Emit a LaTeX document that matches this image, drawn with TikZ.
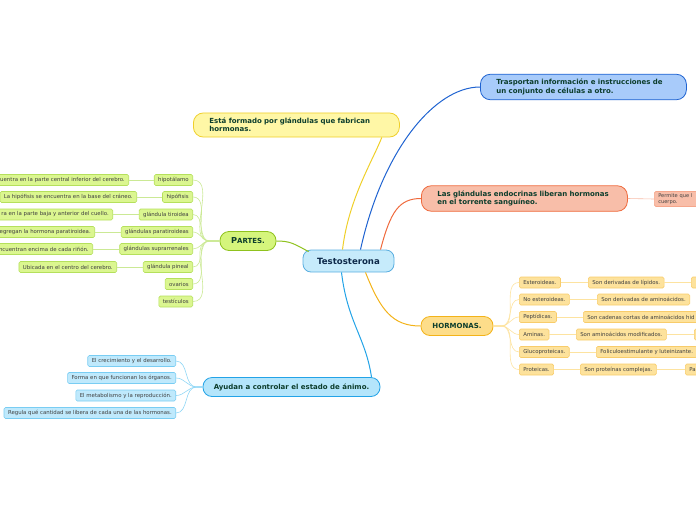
\documentclass[tikz,border=0pt]{standalone}
\usepackage{fontspec}
\setmainfont{DejaVu Sans}
\usetikzlibrary{positioning}

\definecolor{centfill}{HTML}{C6EBFB}
\definecolor{centline}{HTML}{5AAEE0}
\definecolor{centtext}{HTML}{0E2A4A}
\definecolor{temtext}{HTML}{0C3D2C}
\definecolor{trasfill}{HTML}{A8CBFA}
\definecolor{trasline}{HTML}{1F63D1}
\definecolor{estafill}{HTML}{FFF7A6}
\definecolor{estaline}{HTML}{EFCF2A}
\definecolor{glanfill}{HTML}{F8BEA9}
\definecolor{glanline}{HTML}{EF6A3D}
\definecolor{partfill}{HTML}{D5F57C}
\definecolor{partline}{HTML}{8FC21E}
\definecolor{partleafline}{HTML}{B5E05C}
\definecolor{partedge}{HTML}{CBE995}
\definecolor{hormfill}{HTML}{FDDD8A}
\definecolor{hormline}{HTML}{F3B31A}
\definecolor{hormleafline}{HTML}{F8CC6A}
\definecolor{hormedge}{HTML}{FDE3A0}
\definecolor{ayudfill}{HTML}{B4E5FB}
\definecolor{ayudline}{HTML}{23A3E7}
\definecolor{ayudleafline}{HTML}{79CDF3}
\definecolor{ayudedge}{HTML}{8FD6F5}

\tikzset{
  tema/.style={draw, rounded corners=10pt, line width=0.8pt,
    font=\bfseries\fontsize{7}{8.4}\selectfont, text=temtext,
    align=left, text width=174pt, inner xsep=16pt, inner ysep=5pt},
  rama/.style={draw, rounded corners=9pt, line width=0.8pt,
    font=\bfseries\fontsize{7}{8}\selectfont, text=temtext,
    minimum height=19pt, inner xsep=4pt, inner ysep=0pt},
  hoja/.style={draw, rounded corners=1.5pt, line width=0.6pt,
    font=\fontsize{5.4}{6.4}\selectfont, text=black!75,
    inner xsep=4pt, inner ysep=0pt, minimum height=11pt},
  partehoja/.style={hoja, fill=partfill!85!white, draw=partleafline},
  hormhoja/.style={hoja, fill=hormfill!85!white, draw=hormleafline},
  ayudhoja/.style={hoja, fill=ayudfill!85!white, draw=ayudleafline},
  partelinea/.style={draw=partedge, line width=0.6pt},
  hormlinea/.style={draw=hormedge, line width=0.6pt},
  ayudlinea/.style={draw=ayudedge, line width=0.6pt}
}

\begin{document}
\begin{tikzpicture}[x=1pt,y=-1pt]
  \useasboundingbox (0,0) rectangle (696,520);
  \clip (0,0) rectangle (696,520);

  % centro
  \node [draw=centline, fill=centfill, rounded corners=8pt, line width=0.8pt,
    minimum width=91pt, minimum height=22pt, text=centtext,
    font=\bfseries\fontsize{8.6}{10}\selectfont] (testo) at (348.5,261) {Testosterona};

  % temas principales
  \node [tema, fill=trasfill, draw=trasline, anchor=west] (trasp) at (480,87)
    {Trasportan información e instrucciones de\\un conjunto de células a otro.};
  \node [tema, fill=estafill, draw=estaline, anchor=west] (esta) at (193,125)
    {Está formado por glándulas que fabrican\\hormonas.};
  \node [tema, fill=glanfill, draw=glanline, anchor=west] (glan) at (421,198.5)
    {Las glándulas endocrinas liberan hormonas\\en el torrente sanguíneo.};
  \node [hoja, fill=glanfill, draw=glanline!60, anchor=west, align=left,
    text width=60pt, inner ysep=2pt, font=\fontsize{5.1}{6}\selectfont] (permite) at (654,199)
    {Permite que l\\cuerpo.};
  \node [rama, fill=partfill, draw=partline, minimum width=56pt] (partes) at (248,241)
    {{\fontsize{8.2}{9}\selectfont P}ARTES.};
  \node [rama, fill=hormfill, draw=hormline, minimum width=72pt] (horm) at (457,326)
    {HORMONAS.};
  \node [rama, fill=ayudfill, draw=ayudline, minimum width=177pt] (ayud) at (291.5,387)
    {Ayudan a controlar el estado de ánimo.};

  % ramas del centro
  \draw [partline, line width=1pt] ([xshift=6pt,yshift=-2pt]testo.north west)
    .. controls +(-15,-8) and +(14,0) .. (partes.east);
  \draw [estaline, line width=1pt] ([xshift=-6pt]testo.north)
    .. controls +(6,-50) and +(-10,25) .. ([xshift=-18pt]esta.south east);
  \draw [trasline, line width=1pt] ([xshift=12pt]testo.north)
    .. controls +(22,-100) and +(-45,0) .. (trasp.west);
  \draw [glanline, line width=1pt] ([xshift=32pt]testo.north)
    .. controls +(10,-38) and +(-22,0) .. (glan.west);
  \draw [hormline, line width=1pt] ([xshift=17pt]testo.south)
    .. controls +(15,38) and +(-28,0) .. (horm.west);
  \draw [ayudline, line width=1pt] ([xshift=-7pt]testo.south)
    .. controls +(6,50) and +(-6,-40) .. ([xshift=80pt]ayud.north);
  \draw [draw=glanline!45, line width=0.6pt] (glan.east) -- (permite.west);

  % partes
  \node [partehoja, anchor=east] (hipo) at (193,180) {hipotálamo};
  \node [partehoja, anchor=east] (hipof) at (193,197) {hipófisis};
  \node [partehoja, anchor=east] (tiro) at (193,214.5) {glándula tiroidea};
  \node [partehoja, anchor=east] (para) at (193,232) {glándulas paratiroideas};
  \node [partehoja, anchor=east] (supra) at (193,249) {glándulas suprarrenales};
  \node [partehoja, anchor=east] (pineal) at (193,267) {glándula pineal};
  \node [partehoja, anchor=east] (ovar) at (193,284) {ovarios};
  \node [partehoja, anchor=east] (testi) at (193,301.5) {testículos};

  \node [partehoja, anchor=east] (hipo2) at (129,180) {uentra en la parte central inferior del cerebro.};
  \node [partehoja, anchor=east] (hipof2) at (137,197) {La hipófisis se encuentra en la base del cráneo.};
  \node [partehoja, anchor=east] (tiro2) at (113,214.5) {ra en la parte baja y anterior del cuello.};
  \node [partehoja, anchor=east] (para2) at (95,232) {egregan la hormona paratiroidea.};
  \node [partehoja, anchor=east] (supra2) at (93,249) {encuentran encima de cada riñón.};
  \node [partehoja, anchor=east] (pineal2) at (117,267) {Ubicada en el centro del cerebro.};

  \foreach \h in {hipo,hipof,tiro,para,supra,pineal,ovar,testi}
    \draw [partelinea] (partes.west) -- +(-10,0) to[out=180,in=0] (\h.east);
  \foreach \h in {hipo,hipof,tiro,para,supra,pineal}
    \draw [partelinea] (\h.west) -- (\h2.east);

  % hormonas
  \node [hormhoja, anchor=west] (ester) at (519,282.5) {Esteroideas.};
  \node [hormhoja, anchor=west] (noest) at (519,299.5) {No esteroideas.};
  \node [hormhoja, anchor=west] (pept) at (519,317) {Peptídicas.};
  \node [hormhoja, anchor=west] (amin) at (519,334.5) {Aminas.};
  \node [hormhoja, anchor=west] (gluc) at (519,352) {Glucoproteicas.};
  \node [hormhoja, anchor=west] (prot) at (519,369.5) {Proteicas.};

  \node [hormhoja, anchor=west] (ester2) at (588,282.5) {Son derivadas de lípidos.};
  \node [hormhoja, anchor=west] (noest2) at (597,299.5) {Son derivadas de aminoácidos.};
  \node [hormhoja, anchor=west] (pept2) at (583,317) {Son cadenas cortas de aminoácidos hid\hspace{20pt}};
  \node [hormhoja, anchor=west] (amin2) at (576,334.5) {Son aminoácidos modificados.};
  \node [hormhoja, anchor=west] (gluc2) at (596,352) {Foliculoestimulante y luteinizante.};
  \node [hormhoja, anchor=west] (prot2) at (580,369.5) {Son proteínas complejas.};

  \node [hormhoja, anchor=west, minimum width=20pt] (ester3) at (691,282.5) {};
  \node [hormhoja, anchor=west, minimum width=20pt] (amin3) at (694,334.5) {};
  \node [hormhoja, anchor=west, align=left, text width=30pt] (prot3) at (685,369.5) {Pa};

  \foreach \h in {ester,noest,pept,amin,gluc,prot}
    \draw [hormlinea] (horm.east) -- +(8,0) to[out=0,in=180] (\h.west);
  \foreach \h in {ester,noest,pept,amin,gluc,prot}
    \draw [hormlinea] (\h.east) -- (\h2.west);
  \foreach \h in {ester,amin,prot}
    \draw [hormlinea] (\h2.east) -- (\h3.west);

  % ayudan
  \node [ayudhoja, anchor=east] (crec) at (176,361) {El crecimiento y el desarrollo.};
  \node [ayudhoja, anchor=east] (forma) at (176,378) {Forma en que funcionan los órganos.};
  \node [ayudhoja, anchor=east] (metab) at (176,395.5) {El metabolismo y la reproducción.};
  \node [ayudhoja, anchor=east] (regula) at (176,413) {Regula qué cantidad se libera de cada una de las hormonas.};

  \foreach \h in {crec,forma,metab,regula}
    \draw [ayudlinea] (ayud.west) -- +(-6,0) to[out=180,in=0] (\h.east);
\end{tikzpicture}
\end{document}
